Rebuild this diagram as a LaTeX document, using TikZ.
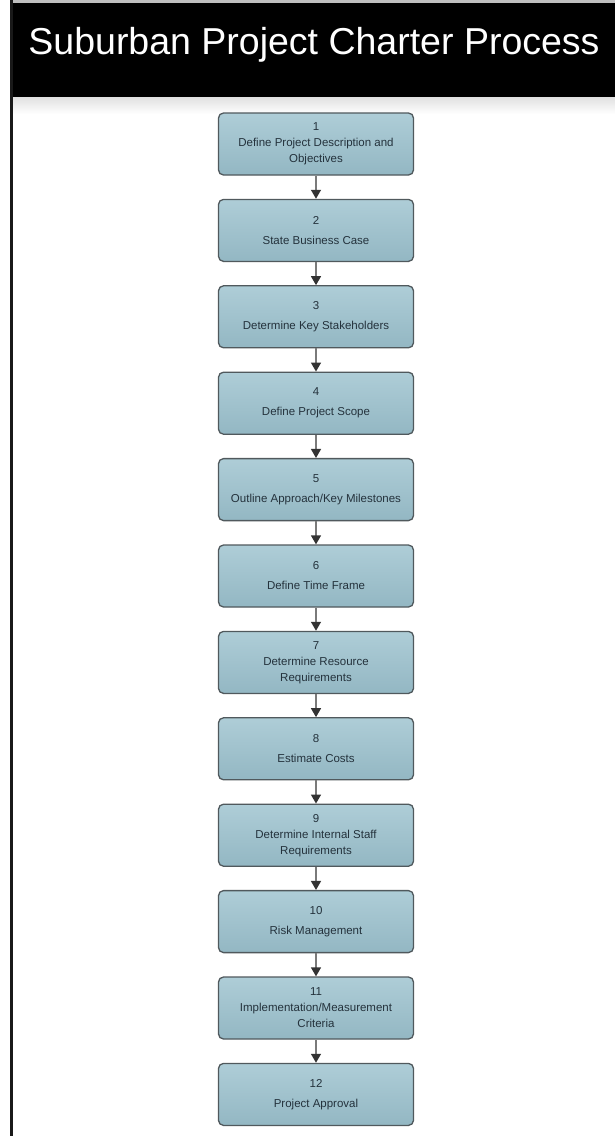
\documentclass[tikz,border=0pt]{standalone}
\usepackage{fontspec}
\setmainfont{Liberation Sans}
\usepackage{xcolor}
\usetikzlibrary{arrows.meta}
\usetikzlibrary{positioning}

\definecolor{boxtop}{HTML}{AECDD7}
\definecolor{boxbot}{HTML}{93B7C3}
\definecolor{boxline}{HTML}{50595D}
\definecolor{boxtext}{HTML}{24323C}
\definecolor{linkline}{HTML}{7A7A7A}

\begin{document}
\begin{tikzpicture}[x=1pt,y=-1pt]
% 1 = 1px of the reference
    \def\XMID{316}
    \def\YFIRST{144}
    \def\BOXW{195pt} %width of boxes
    \def\BOXH{62pt} %height of boxes
    \def\GAP{23.1pt} %

    \tikzset{
      stepbox/.style={draw=boxline,line width=1.3pt,rounded corners=5pt,
        top color=boxtop,bottom color=boxbot,
        minimum width=\BOXW,minimum height=\BOXH,inner sep=2pt,
        align=center,text=boxtext,
        font=\fontsize{11.5}{16}\selectfont},
      link/.style={linkline,line width=1.4pt,
        -{Triangle[width=10pt,length=9pt,color=black!80]}},
    }

    \useasboundingbox (0,0) rectangle (615,1136);
    \fill[white] (0,0) rectangle (615,1136);

    % HEADER
    \fill[black!25] (10,0) rectangle (615,3);
    \fill[black] (10,3) rectangle (615,97);
    \shade[top color=black!12,bottom color=white] (12,97) rectangle (615,114);
    \node[anchor=base,text=white,font=\fontsize{37.5}{40}\selectfont]
        (title) at (314,54) {Suburban Project Charter Process};

    % LEFT BORDER
    \fill[black!90] (9.5,0) rectangle (12.5,1136);

    % STEPS
    \node[stepbox] (box1) at (\XMID,\YFIRST)
        {1\\Define Project Description and\\Objectives};
    \node[stepbox,below=\GAP of box1] (box2) {2\\[4pt]State Business Case};
    \node[stepbox,below=\GAP of box2] (box3) {3\\[4pt]Determine Key Stakeholders};
    \node[stepbox,below=\GAP of box3] (box4) {4\\[4pt]Define Project Scope};
    \node[stepbox,below=\GAP of box4] (box5) {5\\[4pt]Outline Approach/Key Milestones};
    \node[stepbox,below=\GAP of box5] (box6) {6\\[4pt]Define Time Frame};
    \node[stepbox,below=\GAP of box6] (box7) {7\\Determine Resource\\Requirements};
    \node[stepbox,below=\GAP of box7] (box8) {8\\[4pt]Estimate Costs};
    \node[stepbox,below=\GAP of box8] (box9) {9\\Determine Internal Staff\\Requirements};
    \node[stepbox,below=\GAP of box9] (box10) {10\\[4pt]Risk Management};
    \node[stepbox,below=\GAP of box10] (box11)
        {11\\Implementation/Measurement\\Criteria};
    \node[stepbox,below=\GAP of box11] (box12) {12\\[4pt]Project Approval};

    % ARROWS
    \foreach \a [evaluate=\a as \b using int(\a+1)] in {1,...,11}
        \draw[link] (box\a.south) -- (box\b.north);

\end{tikzpicture}
\end{document}
